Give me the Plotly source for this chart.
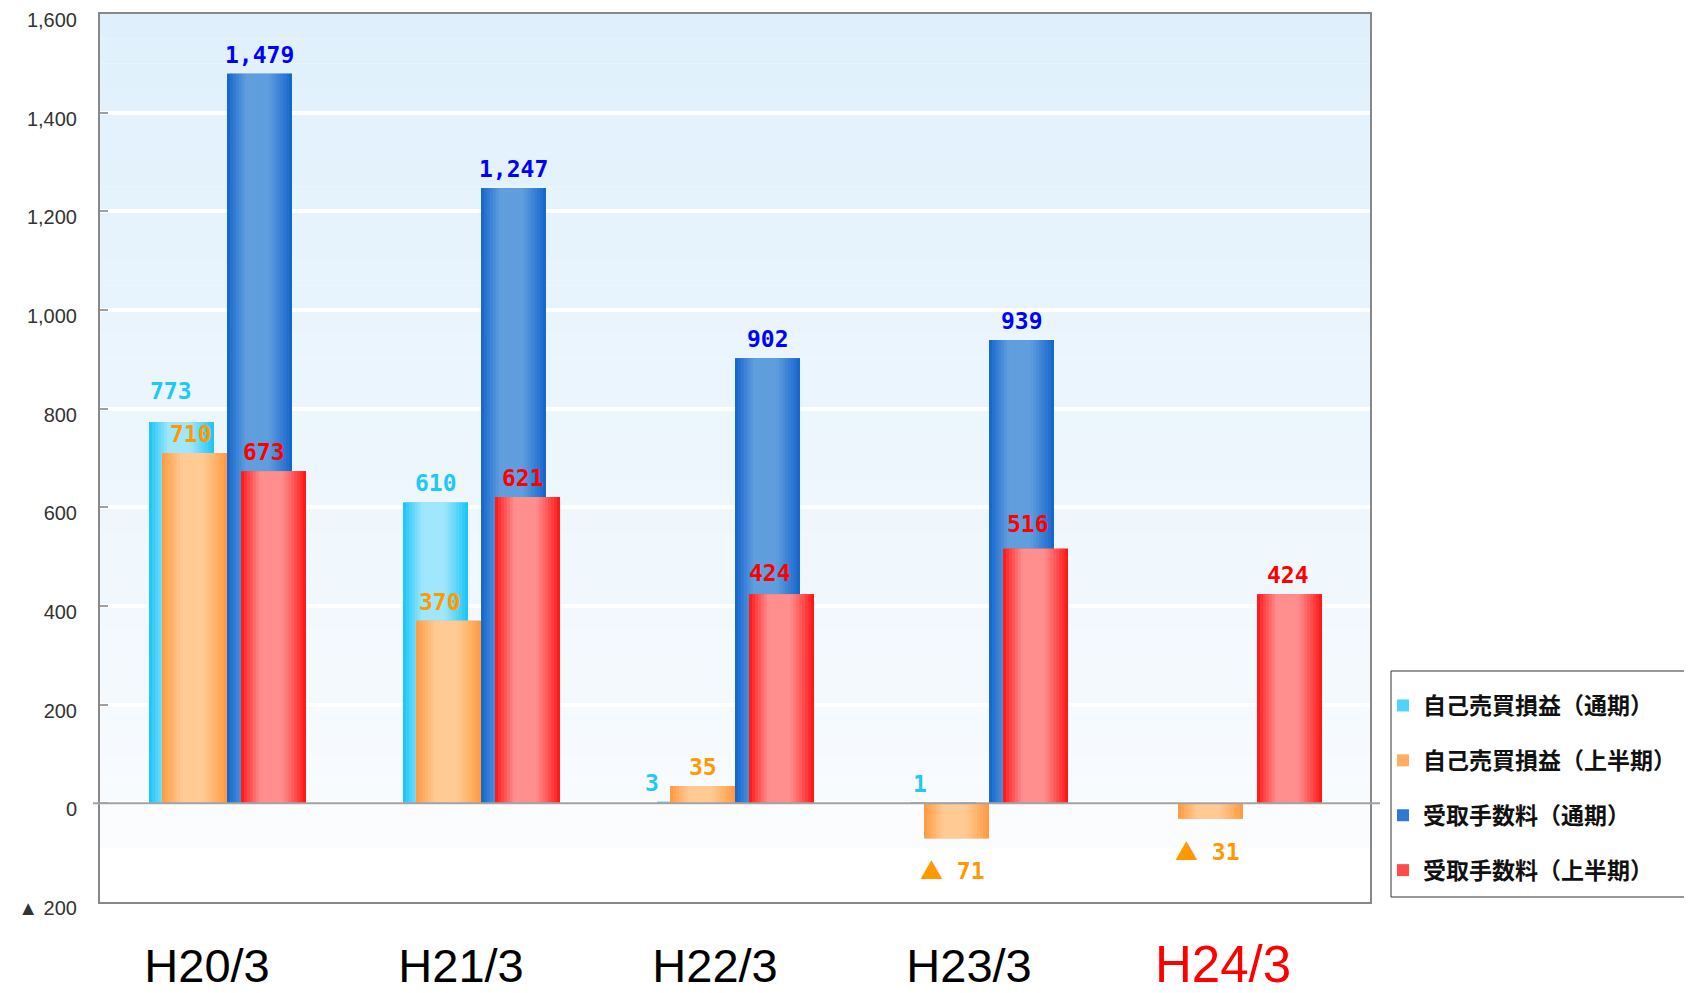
import plotly.graph_objects as go

# ---------------- data ----------------
categories = ["H20/3", "H21/3", "H22/3", "H23/3", "H24/3"]
series_names = ["自己売買損益（通期）", "自己売買損益（上半期）", "受取手数料（通期）", "受取手数料（上半期）"]
self_trading_full = [773, 610, 3, 1, None]
self_trading_half = [710, 370, 35, -71, -31]
fees_full = [1479, 1247, 902, 939, None]
fees_half = [673, 621, 424, 516, 424]
y_tick_values = [-200, 0, 200, 400, 600, 800, 1000, 1200, 1400, 1600]
y_tick_labels = ["▲ 200", "0", "200", "400", "600", "800", "1,000", "1,200", "1,400", "1,600"]

# ---------------- style ----------------
PAGE_W, PAGE_H = 1692, 993
BODY = 8                      # default body margin of the html page
W, H = PAGE_W - BODY, PAGE_H - BODY
# plot area in page pixels: x 100..1370, y 14..902
ML = 100 - BODY
MT = 14 - BODY
MR = W - (1370 - BODY)
MB = H - (902 - BODY)
PLOT_W = W - ML - MR
PLOT_H = H - MT - MB
CAT_PX = PLOT_W / len(categories)
BAR_W = 65 / CAT_PX

series_style = [
    dict(off=-78 / CAT_PX, edge=(18, 196, 248), light=(160, 230, 252), mid="#4fd3f8", label="#1ec8f8",
         dx=[-11, 0, -38, -24, 0], dy=[12, 0, 0, 0, 0]),
    dict(off=-65 / CAT_PX, edge=(255, 152, 60), light=(255, 202, 148), mid="#ffad60", label="#ff9900",
         dx=[-4, -9, 0, -4, -3], dy=[0, 0, 0, 0, 0]),
    dict(off=0.0, edge=(16, 98, 204), light=(96, 158, 222), mid="#2f78d4", label="#0000ff",
         dx=[0, 0, 0, 0, 0], dy=[0, 0, 0, 0, 0]),
    dict(off=14 / CAT_PX, edge=(255, 16, 16), light=(255, 142, 142), mid="#ff4a4a", label="#ff0000",
         dx=[-10, -5, -12, -8, -2], dy=[0, 0, 2, 6, 0]),
]
series_values = [self_trading_full, self_trading_half, fees_full, fees_half]

N_SLICES = 22
LABEL_FONT = "DejaVu Sans Mono"
TRI = '<span style="font-family:Noto Sans CJK JP">▲</span>'


def mix(a, b, f):
    return "rgb(%d,%d,%d)" % tuple(round(a[i] + (b[i] - a[i]) * f) for i in range(3))


def profile(t, peak=0.45):
    if t <= peak:
        u = t / peak
    else:
        u = (1 - t) / (1 - peak)
    return min(1.0, u * 1.5) ** 0.9


def px_to_paper_x(page_px):
    return (page_px - BODY - ML) / PLOT_W


def px_to_paper_y(page_py):
    return (H - MB - (page_py - BODY)) / PLOT_H


x_idx = list(range(len(categories)))
fig = go.Figure()

for s, (name, vals, st) in enumerate(zip(series_names, series_values, series_style)):
    # base bar (legend entry)
    fig.add_trace(go.Bar(
        x=x_idx, y=vals, name=name, legendgroup=name,
        offset=st["off"], width=BAR_W,
        marker=dict(color=st["mid"], line=dict(width=0)),
        hoverinfo="skip",
    ))
    sw = BAR_W / N_SLICES
    for k in range(N_SLICES):
        t = (k + 0.5) / N_SLICES
        col = mix(st["edge"], st["light"], profile(t))
        wk = sw * 1.8 if k < N_SLICES - 1 else sw
        fig.add_trace(go.Bar(
            x=x_idx, y=vals, legendgroup=name, showlegend=False,
            offset=st["off"] + k * sw, width=wk,
            marker=dict(color=col, line=dict(width=0)),
            hoverinfo="skip",
        ))

# data labels
for vals, st in zip(series_values, series_style):
    for i, v in enumerate(vals):
        if v is None:
            continue
        xc = i + st["off"] + BAR_W / 2
        font = dict(family=LABEL_FONT, size=23, color=st["label"], weight="bold")
        if v >= 0:
            fig.add_annotation(x=xc, y=v, text=f"{v:,}", showarrow=False, yanchor="bottom",
                               yshift=4 + st["dy"][i], xshift=st["dx"][i], font=font)
        else:
            fig.add_annotation(x=xc, y=v, text=f"{TRI} {abs(v)}", showarrow=False, yanchor="top",
                               yshift=-12, xshift=st["dx"][i], font=font)

# background gradient bands
top_c = (223, 240, 252)
bot_c = (248, 251, 254)
n_bands = 32
for b in range(n_bands):
    y0 = 1600 * b / n_bands
    y1 = 1600 * (b + 1) / n_bands
    f = (b + 0.5) / n_bands
    fig.add_shape(type="rect", xref="paper", yref="y", x0=0, x1=1, y0=y0, y1=y1,
                  fillcolor=mix(bot_c, top_c, f), line=dict(width=0), layer="below")
fig.add_shape(type="rect", xref="paper", yref="y", x0=0, x1=1, y0=-90, y1=0,
              fillcolor="#fbfcfe", line=dict(width=0), layer="below")

# zero baseline extending slightly past the frame
fig.add_shape(type="line", xref="paper", yref="y", x0=-7 / PLOT_W, x1=1 + 10 / PLOT_W, y0=0, y1=0,
              line=dict(color="#a3a3a3", width=2), layer="above")

# legend box
fig.add_shape(type="rect", xref="paper", yref="paper",
              x0=px_to_paper_x(1391), x1=px_to_paper_x(1700),
              y0=px_to_paper_y(897), y1=px_to_paper_y(671),
              line=dict(color="#333333", width=1), fillcolor="white", layer="above")

tick_text = [c if c != "H24/3" else '<span style="color:#ff0000;font-size:51px">H24/3</span>' for c in categories]

fig.update_layout(
    width=W, height=H,
    margin=dict(l=ML, r=MR, t=MT, b=MB, autoexpand=False),
    paper_bgcolor="white", plot_bgcolor="white",
    barmode="overlay",
    showlegend=True,
    legend=dict(
        x=px_to_paper_x(1383), y=px_to_paper_y(684),
        xanchor="left", yanchor="top",
        bgcolor="rgba(0,0,0,0)", borderwidth=0,
        font=dict(family="Noto Sans CJK JP", size=23, color="#111111", weight="bold"),
        tracegroupgap=22, traceorder="grouped", itemwidth=30,
    ),
    xaxis=dict(
        range=[-0.5, len(categories) - 0.5],
        tickmode="array", tickvals=x_idx, ticktext=tick_text,
        showgrid=False, zeroline=False, ticks="",
        showline=True, mirror=True, linecolor="#888888", linewidth=2,
        tickfont=dict(family="Liberation Sans", size=47, color="#000000"),
        ticklabelstandoff=22, ticklabelshift=-20, automargin=False,
        ticklabeloverflow="allow",
    ),
    yaxis=dict(
        range=[-200, 1600],
        tickmode="array", tickvals=y_tick_values, ticktext=y_tick_labels,
        showgrid=True, gridcolor="white", gridwidth=4,
        zeroline=False,
        ticks="inside", ticklen=8, tickcolor="#a0a0a0", tickwidth=2,
        showline=True, mirror=True, linecolor="#888888", linewidth=2,
        tickfont=dict(family="Liberation Sans", size=20, color="#333333"),
        ticklabelstandoff=17, ticklabelshift=6, automargin=False,
        ticklabeloverflow="allow",
    ),
)

fig.write_html("out.html")
